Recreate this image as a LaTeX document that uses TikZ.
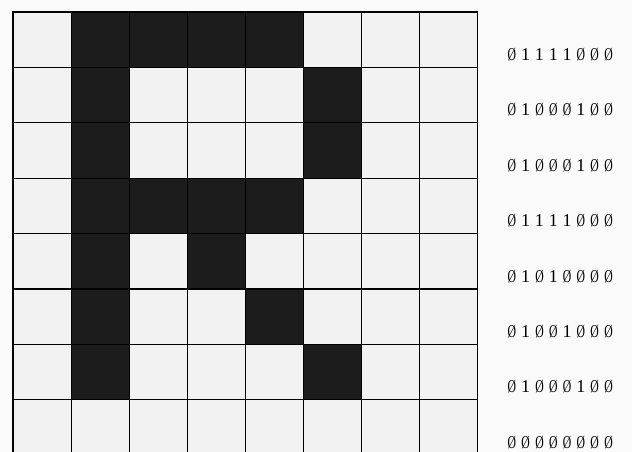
\documentclass[tikz,border=0pt]{standalone}
\usepackage{fontspec}
\usepackage{tikz}
\usetikzlibrary{positioning}
\newfontfamily\bitfont{Liberation Serif}
\definecolor{ink}{HTML}{1C1C1C}
\definecolor{paper}{HTML}{FAFAFA}
\definecolor{pale}{HTML}{F2F2F2}

\begin{document}
\begin{tikzpicture}[x=1pt,y=-1pt]
\tikzset{cell/.style={draw=black,line width=1.2pt,minimum width=58.1pt,minimum height=55.4pt,inner sep=0pt,outer sep=0pt},
  bits/.style={font=\bitfont\fontsize{18}{18}\selectfont,inner sep=0pt,text=black}}
\fill[paper] (0,0) rectangle (632,452);
\useasboundingbox (0,0) rectangle (632,452);
% letter R, one row of bits per line
\foreach \row [count=\r from 0] in {{0,1,1,1,1,0,0,0},{0,1,0,0,0,1,0,0},{0,1,0,0,0,1,0,0},{0,1,1,1,1,0,0,0},
    {0,1,0,1,0,0,0,0},{0,1,0,0,1,0,0,0},{0,1,0,0,0,1,0,0},{0,0,0,0,0,0,0,0}}{
  \foreach \b [count=\c from 0] in \row {
    \ifnum\b=1 \def\shade{ink}\else\def\shade{pale}\fi
    \node[cell,fill=\shade] (cell-\r-\c) at ({42.05+58.1*\c},{39.7+55.4*\r}) {};
  }
  \node[bits,right=27pt of cell-\r-7,yshift=-15pt] (bits-\r)
    {\foreach \b in \row {\makebox[13.8pt]{\ifnum\b=1 1\else\scalebox{0.65}[1]{Ø}\fi}}};
}
\end{tikzpicture}
\end{document}
